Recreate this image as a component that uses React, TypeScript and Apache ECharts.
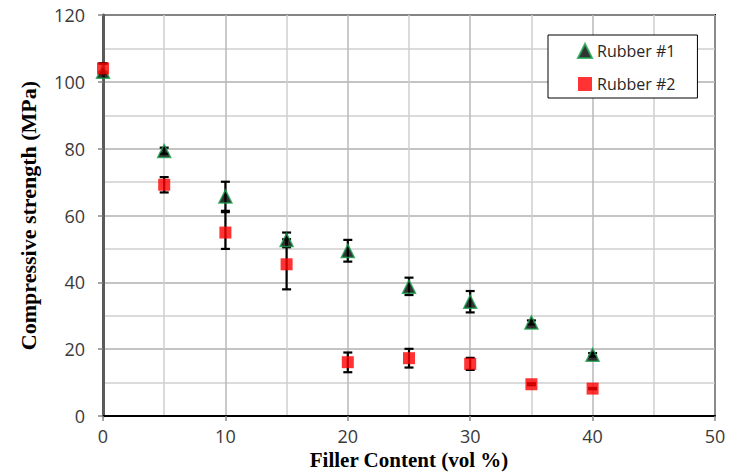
import React, { useEffect, useRef } from "react";
import * as echarts from "echarts";

const fillerContent = [0, 5, 10, 15, 20, 25, 30, 35, 40];
const rubber1 = [103, 79.3, 65.7, 52.7, 49.4, 38.7, 34.2, 28, 18.3];
const rubber1Low = [102.5, 78.5, 61, 50.5, 46.2, 36.2, 31, 27.4, 17.8];
const rubber1High = [105.5, 80.3, 70.1, 54.9, 52.7, 41.4, 37.4, 28.6, 18.8];
const rubber2 = [104, 69.2, 54.9, 45.4, 16.1, 17.3, 15.6, 9.5, 8.2];
const rubber2Low = [103, 66.9, 50, 37.9, 13.1, 14.5, 13.8, 9.2, 8];
const rubber2High = [105.5, 71.5, 61.4, 52.9, 19, 20.1, 17.4, 9.8, 8.4];

const labelFont = "'Open Sans', 'Noto Sans', sans-serif";
const titleFont = "'Liberation Serif', 'DejaVu Serif', serif";

export default function App() {
  const ref = useRef<HTMLDivElement>(null);
  useEffect(() => {
    if (!ref.current) return;
    const chart = echarts.init(ref.current, undefined, { renderer: "svg" });
    const errData = (lo: number[], hi: number[]) =>
      fillerContent.map((x, i) => [x, lo[i], hi[i]]);
    const renderErr = (params: any, api: any) => {
      const x = api.value(0);
      const pLo = api.coord([x, api.value(1)]);
      const pHi = api.coord([x, api.value(2)]);
      const w = 4.5;
      const st = { stroke: "#000", lineWidth: 2.2 };
      return {
        type: "group",
        children: [
          { type: "line", shape: { x1: pLo[0], y1: pLo[1], x2: pHi[0], y2: pHi[1] }, style: st },
          { type: "line", shape: { x1: pLo[0] - w, y1: pLo[1], x2: pLo[0] + w, y2: pLo[1] }, style: st },
          { type: "line", shape: { x1: pHi[0] - w, y1: pHi[1], x2: pHi[0] + w, y2: pHi[1] }, style: st },
        ],
      };
    };
    chart.setOption({
      animation: false,
      backgroundColor: "#fff",
      grid: {
        left: 103,
        right: 15,
        top: 15,
        bottom: 57,
        outerBoundsMode: "none",
        containLabel: false,
        show: true,
        borderColor: "#000",
        borderWidth: 2,
      },
      legend: {
        data: ["Rubber #1", "Rubber #2"],
        orient: "vertical",
        left: 548,
        top: 35,
        padding: [8, 22, 6, 29],
        itemGap: 17,
        itemWidth: 14,
        itemHeight: 14,
        borderColor: "#000",
        borderWidth: 1,
        backgroundColor: "#fff",
        textStyle: { fontFamily: labelFont, fontSize: 16, color: "#262626" },
      },
      xAxis: {
        type: "value",
        min: 0,
        max: 50,
        interval: 10,
        name: "Filler Content (vol %)",
        nameLocation: "middle",
        nameGap: 33,
        nameTextStyle: { fontFamily: titleFont, fontSize: 21, fontWeight: "bold", color: "#000" },
        axisLine: { show: true, lineStyle: { color: "#000", width: 2 } },
        axisTick: { show: true, length: 5, lineStyle: { color: "#888", width: 1.5 } },
        axisLabel: { fontFamily: labelFont, fontSize: 18, color: "#3a3a3a", margin: 11 },
        splitLine: { show: true, lineStyle: { color: "#b8b8b8", width: 1.5 } },
        minorTick: { show: false, splitNumber: 2 },
        minorSplitLine: { show: true, lineStyle: { color: "#cfcfcf", width: 1.5 } },
      },
      yAxis: {
        type: "value",
        min: 0,
        max: 120,
        interval: 20,
        name: "Compressive strength (MPa)",
        nameLocation: "middle",
        nameGap: 64,
        nameTextStyle: { fontFamily: titleFont, fontSize: 22, fontWeight: "bold", color: "#000" },
        axisLine: { show: true, lineStyle: { color: "#5a5a5a", width: 3 } },
        axisTick: { show: true, length: 5, lineStyle: { color: "#888", width: 1.5 } },
        axisLabel: { fontFamily: labelFont, fontSize: 18, color: "#3a3a3a", margin: 18 },
        splitLine: { show: true, lineStyle: { color: "#b0b0b0", width: 1.5 } },
        minorTick: { show: false, splitNumber: 2 },
        minorSplitLine: { show: true, lineStyle: { color: "#cfcfcf", width: 1.5 } },
      },
      series: [
        {
          name: "err1",
          type: "custom",
          renderItem: renderErr,
          data: errData(rubber1Low, rubber1High),
          encode: { x: 0, y: [1, 2] },
          z: 1,
        },
        {
          name: "err2",
          type: "custom",
          renderItem: renderErr,
          data: errData(rubber2Low, rubber2High),
          encode: { x: 0, y: [1, 2] },
          z: 1,
        },
        {
          name: "Rubber #1",
          type: "scatter",
          symbol: "triangle",
          symbolSize: 13,
          itemStyle: { color: "#000", borderColor: "#1aa350", borderWidth: 1.5 },
          data: fillerContent.map((x, i) => [x, rubber1[i]]),
          z: 3,
        },
        {
          name: "Rubber #2",
          type: "scatter",
          symbol: "rect",
          symbolSize: 12,
          itemStyle: { color: "#ff0000" },
          data: fillerContent.map((x, i) => [x, rubber2[i]]),
          z: 4,
        },
      ],
    });
    return () => chart.dispose();
  }, []);
  return <div ref={ref} style={{ width: 730, height: 473, position: "absolute", left: 0, top: 0 }} />;
}
